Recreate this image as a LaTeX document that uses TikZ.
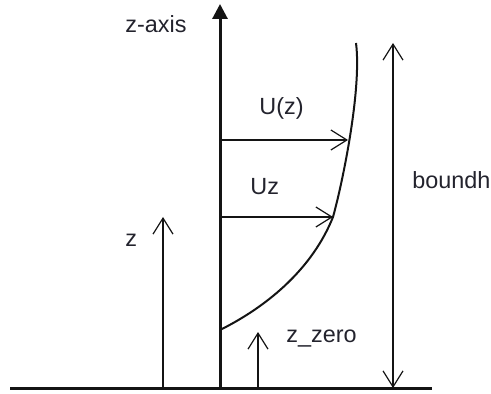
\documentclass[tikz,border=0pt]{standalone}
\usepackage{fontspec}
\setmainfont{Liberation Sans}
\usepackage{tikz}
\usetikzlibrary{arrows.meta}
\definecolor{inkblack}{RGB}{20,20,20}
\definecolor{textdark}{RGB}{35,35,45}
\tikzset{
  lbl/.style={font=\fontsize{11.7}{14}\selectfont, text=textdark, inner sep=0pt, anchor=base west},
  ground/.style={draw=inkblack, line width=1.5pt},
  axis/.style={draw=inkblack, line width=1.5pt, -{Triangle[length=7.5pt,width=7.5pt]}},
  profile/.style={draw=inkblack, line width=1pt},
  arr/.style={draw=inkblack, line width=0.6pt, -{Straight Barb[length=8pt,width=10pt]}},
  arr2/.style={draw=inkblack, line width=0.6pt, {Straight Barb[length=8pt,width=10pt]}-{Straight Barb[length=8pt,width=10pt]}},
}
\begin{document}
\begin{tikzpicture}[x=0.5pt,y=-0.5pt]
  \useasboundingbox (0,0) rectangle (491,394);
  % ground and axis
  \coordinate (gl) at (10,388);
  \coordinate (gr) at (432,388);
  \coordinate (ax0) at (220,388);
  \coordinate (ax1) at (220,4);
  \draw[ground] (gl) -- (gr);
  \draw[axis] (ax0) -- (ax1);
  % wind profile
  \coordinate (pz0) at (220,330);
  \coordinate (pmid) at (333,217);
  \coordinate (ptop) at (356,43);
  \draw[profile] (pz0) .. controls (270,305) and (313,267) .. (pmid)
                       .. controls (342,185) and (362,90) .. (ptop);
  % velocity arrows
  \coordinate (ua) at (220,140);
  \coordinate (ub) at (348,140);
  \coordinate (va) at (220,217);
  \coordinate (vb) at (333,217);
  \draw[arr] (ua) -- (ub);
  \draw[arr] (va) -- (vb);
  % heights
  \coordinate (za) at (163,388);
  \coordinate (zb) at (163,217);
  \coordinate (z0a) at (258,388);
  \coordinate (z0b) at (258,332);
  \coordinate (bha) at (393,388);
  \coordinate (bhb) at (393,43);
  \draw[arr] (za) -- (zb);
  \draw[arr] (z0a) -- (z0b);
  \draw[arr2] (bha) -- (bhb);
  % labels
  \node[lbl] (zaxis) at (125,33) {z-axis};
  \node[lbl] (uzl) at (259,115) {U(z)};
  \node[lbl] (uzs) at (250,195) {Uz};
  \node[lbl] (zl) at (125,247) {z};
  \node[lbl] (zzero) at (286,343) {z\_zero};
  \node[lbl] (boundh) at (412,189) {boundh};
\end{tikzpicture}
\end{document}
